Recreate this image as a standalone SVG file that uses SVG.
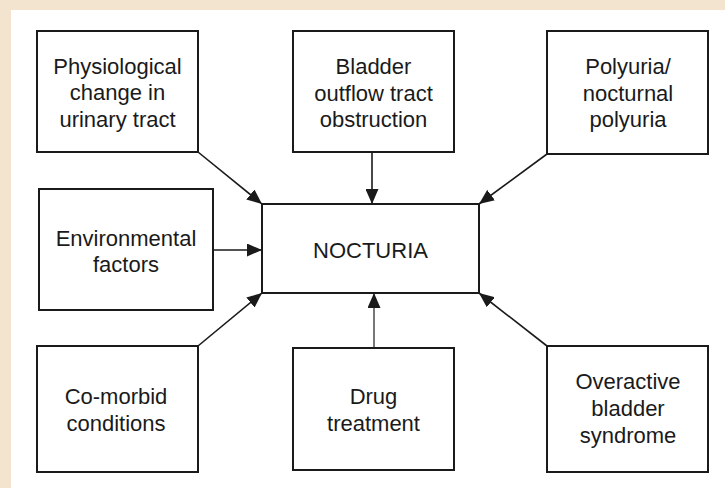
<svg xmlns="http://www.w3.org/2000/svg" width="725" height="488" viewBox="0 0 725 488">
<style>
.box{fill:#fff;stroke:#1a1a1a;stroke-width:2}
.t{font-family:"Liberation Sans",Arial,sans-serif;font-size:22px;fill:#1a1a1a;text-anchor:middle}
.c{stroke:#1a1a1a;stroke-width:1.6;fill:none;marker-end:url(#ah)}
</style>
<defs>
<marker id="ah" markerUnits="userSpaceOnUse" markerWidth="15" markerHeight="13" refX="15" refY="6.5" orient="auto">
<path d="M0,0 L15,6.5 L0,13 z" fill="#1a1a1a"/>
</marker>
</defs>
<rect x="0" y="0" width="725" height="488" fill="#f3e4cf"/>
<rect x="11" y="10" width="714" height="478" fill="#fff"/>
<g id="connectors">
<line class="c" x1="198" y1="152" x2="262" y2="204"/>
<line class="c" x1="372" y1="152" x2="372" y2="204"/>
<line class="c" x1="547" y1="154" x2="479" y2="204"/>
<line class="c" x1="213" y1="250" x2="262" y2="250"/>
<line class="c" x1="198" y1="346" x2="262" y2="293"/>
<line class="c" x1="374" y1="348" x2="374" y2="293" style="stroke:#555"/>
<line class="c" x1="547" y1="346" x2="479" y2="293"/>
</g>
<g id="physiological">
<rect class="box" x="37" y="31" width="161" height="121"/>
<text class="t" x="117.5" y="74">Physiological</text>
<text class="t" x="117.5" y="100">change in</text>
<text class="t" x="117.5" y="127">urinary tract</text>
</g>
<g id="bladder">
<rect class="box" x="293" y="31" width="161" height="121"/>
<text class="t" x="373.5" y="74">Bladder</text>
<text class="t" x="373.5" y="101">outflow tract</text>
<text class="t" x="373.5" y="127">obstruction</text>
</g>
<g id="polyuria">
<rect class="box" x="547" y="31" width="161" height="123"/>
<text class="t" x="628" y="74">Polyuria/</text>
<text class="t" x="628" y="101">nocturnal</text>
<text class="t" x="628" y="127">polyuria</text>
</g>
<g id="environmental">
<rect class="box" x="39" y="189" width="174" height="121"/>
<text class="t" x="126" y="246">Environmental</text>
<text class="t" x="126" y="272">factors</text>
</g>
<g id="nocturia">
<rect class="box" x="262" y="204" width="217" height="89"/>
<text class="t" x="370.5" y="258">NOCTURIA</text>
</g>
<g id="comorbid">
<rect class="box" x="37" y="346" width="161" height="126"/>
<text class="t" x="116" y="404">Co-morbid</text>
<text class="t" x="116" y="431">conditions</text>
</g>
<g id="drug">
<rect class="box" x="293" y="348" width="161" height="122"/>
<text class="t" x="373.5" y="404">Drug</text>
<text class="t" x="373.5" y="431">treatment</text>
</g>
<g id="overactive">
<rect class="box" x="547" y="346" width="161" height="126"/>
<text class="t" x="628" y="389">Overactive</text>
<text class="t" x="628" y="416">bladder</text>
<text class="t" x="628" y="443">syndrome</text>
</g>
</svg>
